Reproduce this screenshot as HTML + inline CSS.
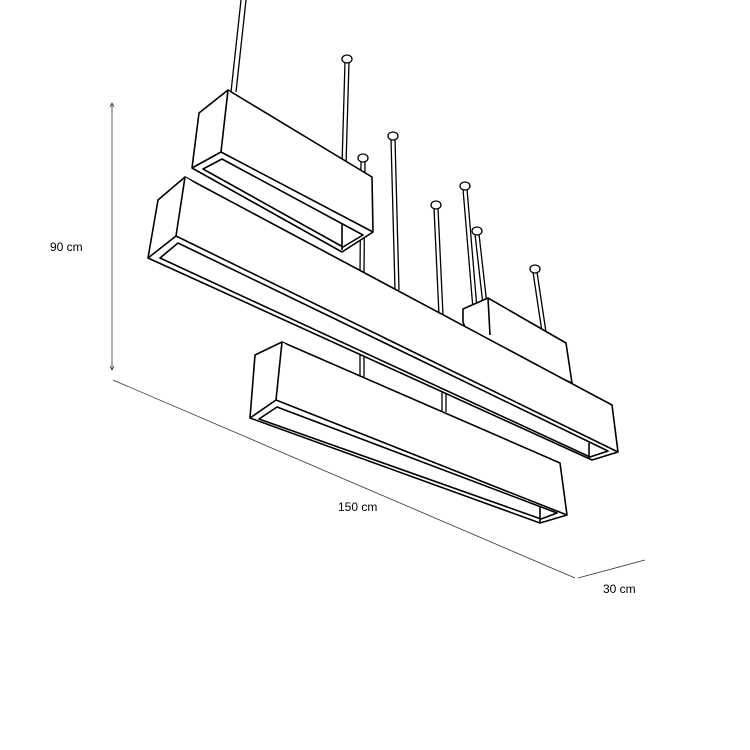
<!DOCTYPE html>
<html><head><style>html,body{margin:0;padding:0;background:#fff}svg{display:block}</style></head>
<body>
<svg width="750" height="750" viewBox="0 0 750 750" xmlns="http://www.w3.org/2000/svg">
<g fill="none" stroke="#000" stroke-width="1.6" stroke-linejoin="round">
<!-- rods: double lines -->
<g stroke-width="1.3">
<path d="M241,0 L231,92 M246,0 L236,92"/>
<path d="M345,62 L342,165 M349,62 L346,165"/>
<path d="M361,161 L360,272 M365,161 L364,272"/>
<path d="M391,139 L395,290 M395,139 L399,290"/>
<path d="M434,208 L439,315 M438,208 L443,315"/>
<path d="M463,189 L475,333 M467,189 L479,333"/>
<path d="M475,234 L483,305 M479,234 L487,305"/>
<path d="M533,272 L542,332 M537,272 L546,332"/>
<path d="M360,345 L360,378 M364,345 L364,378"/>
<path d="M442,388 L442,412 M446,388 L446,412"/>
</g>
<g fill="#fff" stroke-width="1.3">
<ellipse cx="347" cy="59" rx="5" ry="4"/><ellipse cx="363" cy="158" rx="5" ry="4"/>
<ellipse cx="393" cy="136" rx="5" ry="4"/><ellipse cx="436" cy="205" rx="5" ry="4"/>
<ellipse cx="465" cy="186" rx="5" ry="4"/><ellipse cx="477" cy="231" rx="5" ry="4"/>
<ellipse cx="535" cy="269" rx="5" ry="4"/>
</g>
<!-- box4 -->
<g fill="#fff">
<path d="M463,309 L488,298 L566,343 L572,383 L470,340 L463,322 Z"/>
<path d="M488,298 L490,335"/>
</g>
<!-- box2 -->
<g fill="#fff">
<path d="M158,200 L185,177 L612,405 L618,452 L592,460 L148,258 Z"/>
<path d="M185,177 L176,236 L618,452"/>
<path d="M176,236 L148,258"/>
<path d="M178,243 L160,258 L590,457 L608,451 Z"/>
<path d="M589,443 L589,459"/>
</g>
<!-- box1 -->
<g fill="#fff">
<path d="M199,113 L228,90 L372,177 L373,232 L342,252 L192,168 Z"/>
<path d="M228,90 L221,152 L373,232"/>
<path d="M221,152 L192,168"/>
<path d="M222,159 L203,169 L343,247 L363,235 Z"/>
<path d="M342,223 L342,250"/>
</g>
<!-- box3 -->
<g fill="#fff">
<path d="M255,355 L282,342 L560,463 L567,515 L540,523 L250,418 Z"/>
<path d="M282,342 L276,400 L567,515"/>
<path d="M276,400 L250,418"/>
<path d="M277,407 L259,419 L541,519 L557,513 Z"/>
<path d="M540,507 L540,522"/>
</g>
</g>
<!-- dimensions -->
<g stroke="#333" stroke-width="0.8" fill="none">
<path d="M112,103 L112,370"/>
<path d="M110,107 L112,103 L114,107 M110,366 L112,370 L114,366"/>
<path d="M113,380 L575,578"/>
<path d="M578,578 L645,560"/>
</g>
<g font-family="Liberation Sans, sans-serif" font-size="12" fill="#000">
<text x="50" y="251">90 cm</text>
<text x="338" y="511">150 cm</text>
<text x="603" y="593">30 cm</text>
</g>
</svg>
</body></html>
